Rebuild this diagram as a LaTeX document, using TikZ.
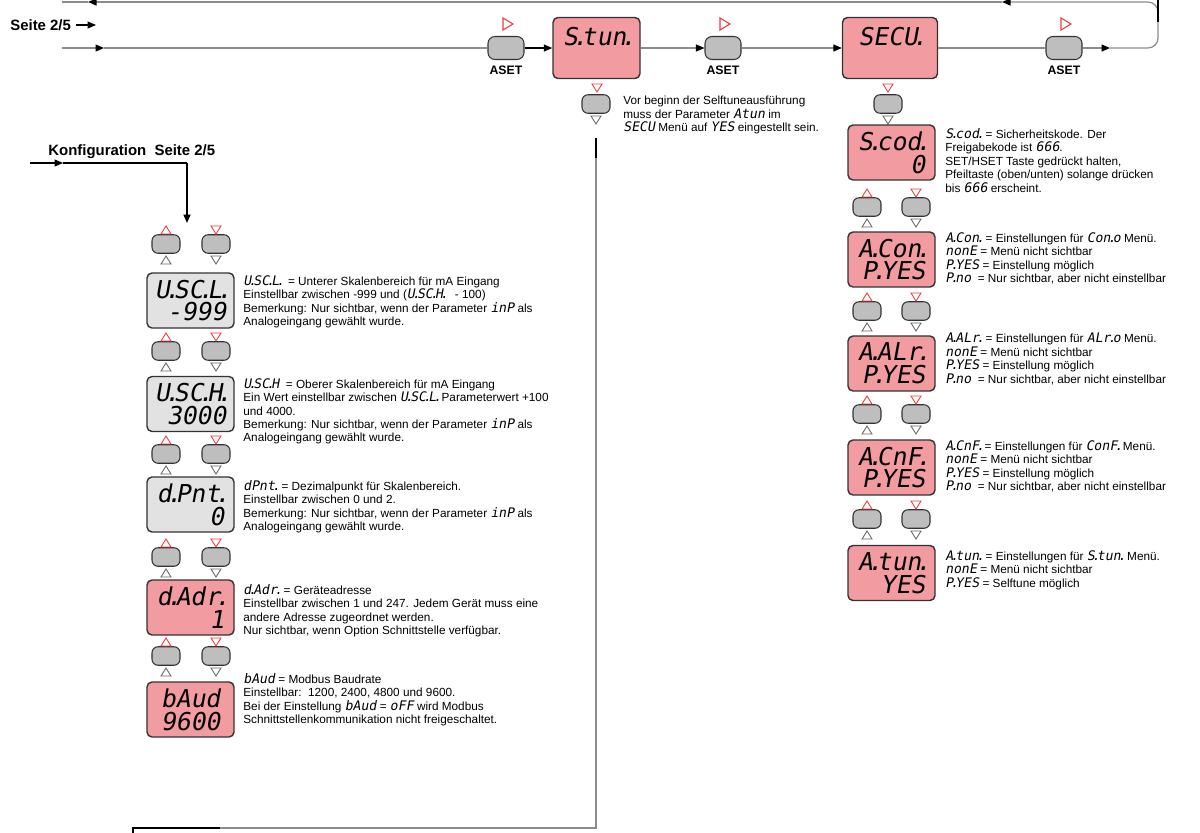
\documentclass[tikz,border=0pt]{standalone}
\usepackage{fontspec}
\setmainfont{Liberation Sans}
\newfontfamily\segfont[FakeSlant=0.18]{DejaVu Sans Mono}
\usetikzlibrary{arrows.meta}
\definecolor{dpink}{HTML}{F29CA2}
\definecolor{dgray}{HTML}{E2E2E2}
\definecolor{kgray}{HTML}{BEBEBE}
\definecolor{tred}{HTML}{EE3B3B}
\definecolor{lgray}{HTML}{8C8C8C}
\newcommand\sd{\kern-0.22em.\kern-0.22em}
\newcommand\seg[1]{{\segfont\fontsize{7.5}{7.65}\selectfont #1}}
\tikzset{
  disp/.style={draw=black!80, line width=0.8pt, rounded corners=1mm, minimum width=17.4mm, minimum height=11mm, inner sep=0pt, align=right, font=\segfont\fontsize{14}{13}\selectfont},
  pinkdisp/.style={disp, fill=dpink},
  greydisp/.style={disp, fill=dgray},
  key/.style={draw=black!80, line width=0.6pt, fill=kgray, rounded corners=1.2mm, minimum width=5.6mm, minimum height=3.7mm, inner sep=0pt},
  asetkey/.style={key, minimum width=7.2mm, minimum height=4.6mm, rounded corners=1.4mm},
  note/.style={anchor=north west, align=left, inner sep=0pt, font=\fontsize{6.7}{7.65}\selectfont},
  lbl/.style={font=\bfseries\fontsize{8.5}{10}\selectfont, inner sep=0pt},
  asettxt/.style={font=\bfseries\fontsize{7}{8}\selectfont, inner sep=0pt},
  flow/.style={draw=lgray, line width=0.7pt},
  tip/.style={-{Triangle[length=1.7mm, width=1.4mm, color=black]}},
  pics/trup/.style={code={\draw[#1, line width=0.5pt] (-5,4) -- (5,4) -- (0,-4) -- cycle;}},
  pics/trdn/.style={code={\draw[#1, line width=0.5pt] (-5,-4) -- (5,-4) -- (0,4) -- cycle;}},
  pics/trrt/.style={code={\draw[#1, line width=0.6pt] (-5,-6) -- (5,0) -- (-5,6) -- cycle;}},
}
\begin{document}
\begin{tikzpicture}[x=0.2mm, y=-0.2mm]
\useasboundingbox (0,0) rectangle (1200,832);

\node[asetkey] (aset1) at (506,48) {};
\node[asetkey] (aset2) at (723,48) {};
\node[asetkey] (aset3) at (1064,48) {};
\node[asettxt] (aset1t) at (506,70) {ASET};
\node[asettxt] (aset2t) at (723,70) {ASET};
\node[asettxt] (aset3t) at (1064,70) {ASET};
\pic at (508,24) {trrt=tred};
\pic at (725,24) {trrt=tred};
\pic at (1066,24) {trrt=tred};

\node[pinkdisp, minimum height=12.2mm, align=left] (stun) at (596.5,48) {S\sd tun\sd\\\mbox{}};
\node[pinkdisp, minimum width=19mm, minimum height=12.2mm, align=left] (secu) at (890,48) {SECU\sd\\\mbox{}};

\node[lbl, anchor=west] (seite) at (10,25) {Seite 2/5};
\coordinate (sA) at (96,25);
\draw[black, line width=0.6pt, tip, shorten <=1mm] (seite) -- (sA);

\coordinate (mL) at (62,48);
\coordinate (mA) at (104,48);
\coordinate (mB) at (1110,48);
\coordinate (cR) at (1158,48);
\coordinate (tR) at (1158,2);
\coordinate (tA) at (1002,2);
\coordinate (tB) at (88,2);
\coordinate (tL) at (62,2);
\draw[flow, tip] (mL) -- (mA);
\draw[flow] (mA) -- (aset1);
\draw[black, line width=0.7pt, tip] (aset1) -- (stun);
\draw[flow, tip] (stun) -- (aset2);
\draw[flow, tip] (aset2) -- (secu);
\draw[flow] (secu) -- (aset3);
\draw[flow, tip] (aset3) -- (mB);
\draw[flow, tip, rounded corners=2mm] (mB) -- (cR) -- (tR) -- (tA);
\draw[flow, tip] (tA) -- (tB);
\draw[flow] (tB) -- (tL);
\draw[line width=1.2pt] (1158,-3) -- (1158,22);

\node[key] (ktun) at (596,104) {};
\pic at (597,88) {trdn=tred};
\pic at (596,120) {trdn=black!60};
\node[note] (ntun) at (623,96) {Vor beginn der Selftuneausführung\\
muss der Parameter \seg{Atun} im\\
\seg{SECU} Menü auf \seg{YES} eingestellt sein.};

\coordinate (vT) at (596,138);
\coordinate (vT2) at (596,158);
\coordinate (vB) at (596,828);
\coordinate (hL) at (133,828);
\coordinate (hL2) at (220,828);
\coordinate (hE) at (133,836);
\draw[flow] (vT) -- (vB) -- (hL) -- (hE);
\draw[line width=1.2pt] (vT) -- (vT2);
\draw[line width=1.2pt] (hL2) -- (hL) -- (hE);

\node[lbl, anchor=south west] (konf) at (48,159) {Konfiguration\ \ Seite 2/5};
\coordinate (kL) at (30,163);
\coordinate (kA) at (63,163);
\coordinate (kC) at (187,163);
\coordinate (kD) at (187,223);
\draw[black, line width=0.6pt, tip] (kL) -- (kA);
\draw[black, line width=0.6pt] (kA) -- (kC);
\draw[black, line width=1pt, tip] (kC) -- (kD);

\foreach \y in {244,351,454,557,656} {
  \node[key] (kl\y) at (166,\y) {};
  \node[key] (kr\y) at (216,\y) {};
  \pic at (166,\y-14) {trup=tred};
  \pic at (216,\y-14) {trdn=tred};
  \pic at (166,\y+16) {trup=black!60};
  \pic at (216,\y+16) {trdn=black!60};
}
\node[greydisp] (uscl) at (190.5,300.5) {U\sd SC\sd L\sd\\-999};
\node[greydisp] (usch) at (190.5,404) {U\sd SC\sd H\sd\\3000};
\node[greydisp] (dpnt) at (190.5,504.5) {d\sd Pnt\sd\\0};
\node[pinkdisp] (dadr) at (190.5,607.5) {d\sd Adr\sd\\1};
\node[pinkdisp] (baud) at (190.5,709.5) {bAud\\9600};

\node[note] (nuscl) at (243,275) {\seg{U\sd SC\sd L\sd}\ \ = Unterer Skalenbereich für mA Eingang\\
Einstellbar zwischen -999 und (\seg{U\sd SC\sd H\sd}\ \ \ - 100)\\
Bemerkung: Nur sichtbar, wenn der Parameter \seg{inP} als\\
Analogeingang gewählt wurde.};
\node[note] (nusch) at (243,378) {\seg{U\sd SC\sd H}\ \ = Oberer Skalenbereich für mA Eingang\\
Ein Wert einstellbar zwischen \seg{U\sd SC\sd L\sd} Parameterwert +100\\
und 4000.\\
Bemerkung: Nur sichtbar, wenn der Parameter \seg{inP} als\\
Analogeingang gewählt wurde.};
\node[note] (ndpnt) at (243,480) {\seg{dPnt\sd} = Dezimalpunkt für Skalenbereich.\\
Einstellbar zwischen 0 und 2.\\
Bemerkung: Nur sichtbar, wenn der Parameter \seg{inP} als\\
Analogeingang gewählt wurde.};
\node[note] (ndadr) at (243,584) {\seg{d\sd Adr\sd} = Geräteadresse\\
Einstellbar zwischen 1 und 247. Jedem Gerät muss eine\\
andere Adresse zugeordnet werden.\\
Nur sichtbar, wenn Option Schnittstelle verfügbar.};
\node[note] (nbaud) at (243,673) {\seg{bAud} = Modbus Baudrate\\
Einstellbar:\ \ 1200, 2400, 4800 und 9600.\\
Bei der Einstellung \seg{bAud} = \seg{oFF} wird Modbus\\
Schnittstellenkommunikation nicht freigeschaltet.};

\node[key] (ksec) at (888,104) {};
\pic at (888,88) {trdn=tred};
\pic at (888,120) {trdn=black!60};
\foreach \y in {207,311,414,519} {
  \node[key] (ml\y) at (867,\y) {};
  \node[key] (mr\y) at (916,\y) {};
  \pic at (867,\y-14) {trup=tred};
  \pic at (916,\y-14) {trdn=tred};
  \pic at (867,\y+16) {trup=black!60};
  \pic at (916,\y+16) {trdn=black!60};
}
\node[pinkdisp] (scod) at (891.5,152.5) {S\sd cod\sd\\0};
\node[pinkdisp] (acon) at (891.5,259.5) {A\sd Con\sd\\P\sd YES};
\node[pinkdisp] (aalr) at (891.5,363.5) {A\sd ALr\sd\\P\sd YES};
\node[pinkdisp] (acnf) at (891.5,467.5) {A\sd CnF\sd\\P\sd YES};
\node[pinkdisp] (atun) at (891.5,573) {A\sd tun\sd\\YES};

\node[note] (nscod) at (945,128) {\seg{S\sd cod\sd} = Sicherheitskode. Der\\
Freigabekode ist \seg{666}.\\
SET/HSET Taste gedrückt halten,\\
Pfeiltaste (oben/unten) solange drücken\\
bis \seg{666} erscheint.};
\node[note] (nacon) at (945,232) {\seg{A\sd Con\sd} = Einstellungen für \seg{Con\sd o} Menü.\\
\seg{nonE} = Menü nicht sichtbar\\
\seg{P\sd YES} = Einstellung möglich\\
\seg{P\sd no}\ \ = Nur sichtbar, aber nicht einstellbar};
\node[note] (naalr) at (945,333) {\seg{A\sd ALr\sd} = Einstellungen für \seg{ALr\sd o} Menü.\\
\seg{nonE} = Menü nicht sichtbar\\
\seg{P\sd YES} = Einstellung möglich\\
\seg{P\sd no}\ \ = Nur sichtbar, aber nicht einstellbar};
\node[note] (nacnf) at (945,440) {\seg{A\sd CnF\sd} = Einstellungen für \seg{ConF\sd} Menü.\\
\seg{nonE} = Menü nicht sichtbar\\
\seg{P\sd YES} = Einstellung möglich\\
\seg{P\sd no}\ \ = Nur sichtbar, aber nicht einstellbar};
\node[note] (natun) at (945,550) {\seg{A\sd tun\sd} = Einstellungen für \seg{S\sd tun\sd} Menü.\\
\seg{nonE} = Menü nicht sichtbar\\
\seg{P\sd YES} = Selftune möglich};
\end{tikzpicture}
\end{document}
